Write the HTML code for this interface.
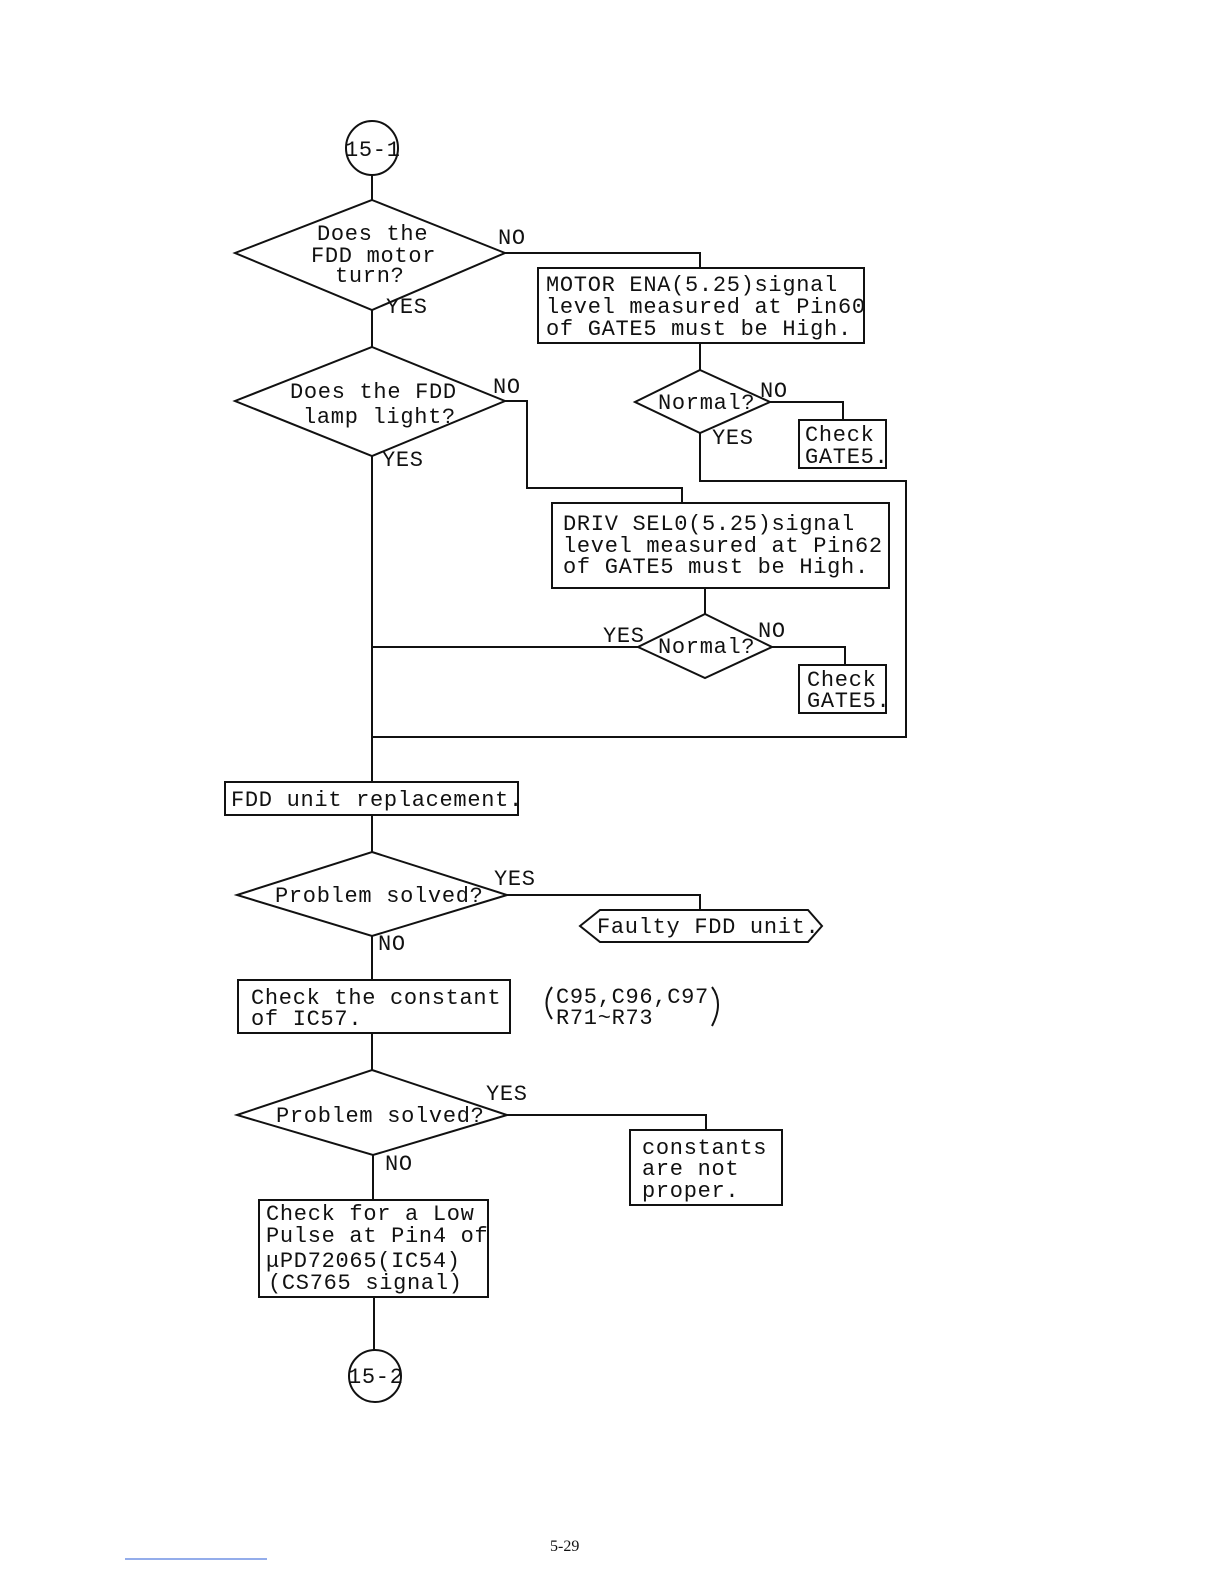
<!DOCTYPE html>
<html><head><style>
html,body{margin:0;padding:0;background:#fff;width:1224px;height:1584px;overflow:hidden}
svg{display:block}
svg text{font-family:"Liberation Mono",monospace;font-size:22px;letter-spacing:0.7px;fill:#111}
</style></head><body>
<svg width="1224" height="1584" viewBox="0 0 1224 1584" xmlns="http://www.w3.org/2000/svg">
<g fill="none" stroke="#111" stroke-width="2">
<ellipse cx="372" cy="148" rx="26" ry="27"/>
<line x1="372" y1="175" x2="372" y2="200"/>
<polygon points="372,200 505,253 372,310 235,253"/>
<polyline points="505,253 700,253 700,268"/>
<rect x="538" y="268" width="326" height="75"/>
<line x1="700" y1="343" x2="700" y2="370"/>
<polygon points="700,370 770,402 700,433 635,402"/>
<polyline points="770,402 843,402 843,420"/>
<rect x="799" y="420" width="87" height="48"/>
<polyline points="700,433 700,481 906,481 906,737 372,737"/>
<line x1="372" y1="310" x2="372" y2="347"/>
<polygon points="372,347 505,401 372,456 235,401"/>
<polyline points="505,401 527,401 527,488 682,488 682,503"/>
<rect x="552" y="503" width="337" height="85"/>
<line x1="705" y1="588" x2="705" y2="614"/>
<polygon points="705,614 772,647 705,678 638,647"/>
<polyline points="772,647 845,647 845,665"/>
<rect x="799" y="665" width="87" height="48"/>
<line x1="638" y1="647" x2="372" y2="647"/>
<line x1="372" y1="456" x2="372" y2="782"/>
<rect x="225" y="782" width="293" height="33"/>
<line x1="372" y1="815" x2="372" y2="852"/>
<polygon points="372,852 507,895 372,936 237,895"/>
<polyline points="507,895 700,895 700,910"/>
<polygon points="580,926 600,910 808,910 822,926 808,942 600,942"/>
<line x1="372" y1="936" x2="372" y2="980"/>
<rect x="238" y="980" width="272" height="53"/>
<line x1="372" y1="1033" x2="372" y2="1070"/>
<polygon points="372,1070 507,1115 373,1155 237,1115"/>
<polyline points="507,1115 706,1115 706,1130"/>
<rect x="630" y="1130" width="152" height="75"/>
<line x1="373" y1="1155" x2="373" y2="1200"/>
<rect x="259" y="1200" width="229" height="97"/>
<line x1="374" y1="1297" x2="374" y2="1350"/>
<ellipse cx="375" cy="1376" rx="26" ry="26"/>
<path d="M552,987 Q541,1003 552,1019"/>
<path d="M712,987 Q724,1003 712,1026"/>
</g>
<line x1="125" y1="1559" x2="267" y2="1559" stroke="#2a5bd7" stroke-width="1"/>
<text x="345" y="156">15-1</text>
<text x="317" y="240">Does the</text>
<text x="311" y="262">FDD motor</text>
<text x="335" y="282">turn?</text>
<text x="498" y="244">NO</text>
<text x="386" y="313">YES</text>
<text x="546" y="291">MOTOR ENA(5.25)signal</text>
<text x="546" y="313">level measured at Pin60</text>
<text x="546" y="335">of GATE5 must be High.</text>
<text x="658" y="409">Normal?</text>
<text x="760" y="397">NO</text>
<text x="712" y="444">YES</text>
<text x="805" y="441">Check</text>
<text x="805" y="463">GATE5.</text>
<text x="290" y="398">Does the FDD</text>
<text x="303" y="423">lamp light?</text>
<text x="493" y="393">NO</text>
<text x="382" y="466">YES</text>
<text x="563" y="530">DRIV SEL0(5.25)signal</text>
<text x="563" y="552">level measured at Pin62</text>
<text x="563" y="573">of GATE5 must be High.</text>
<text x="603" y="642">YES</text>
<text x="758" y="637">NO</text>
<text x="658" y="653">Normal?</text>
<text x="807" y="686">Check</text>
<text x="807" y="707">GATE5.</text>
<text x="231" y="806">FDD unit replacement.</text>
<text x="275" y="902">Problem solved?</text>
<text x="494" y="885">YES</text>
<text x="378" y="950">NO</text>
<text x="597" y="933">Faulty FDD unit.</text>
<text x="251" y="1004">Check the constant</text>
<text x="251" y="1025">of IC57.</text>
<text x="556" y="1003">C95,C96,C97</text>
<text x="556" y="1024">R71~R73</text>
<text x="276" y="1122">Problem solved?</text>
<text x="486" y="1100">YES</text>
<text x="385" y="1170">NO</text>
<text x="642" y="1154">constants</text>
<text x="642" y="1175">are not</text>
<text x="642" y="1197">proper.</text>
<text x="266" y="1220">Check for a Low</text>
<text x="266" y="1242">Pulse at Pin4 of</text>
<text x="266" y="1267">μPD72065(IC54)</text>
<text x="268" y="1289">(CS765 signal)</text>
<text x="348" y="1383">15-2</text>
<text x="550" y="1551" style="font-family:'Liberation Serif',serif;font-size:16px;letter-spacing:0">5-29</text>
</svg>
</body></html>
